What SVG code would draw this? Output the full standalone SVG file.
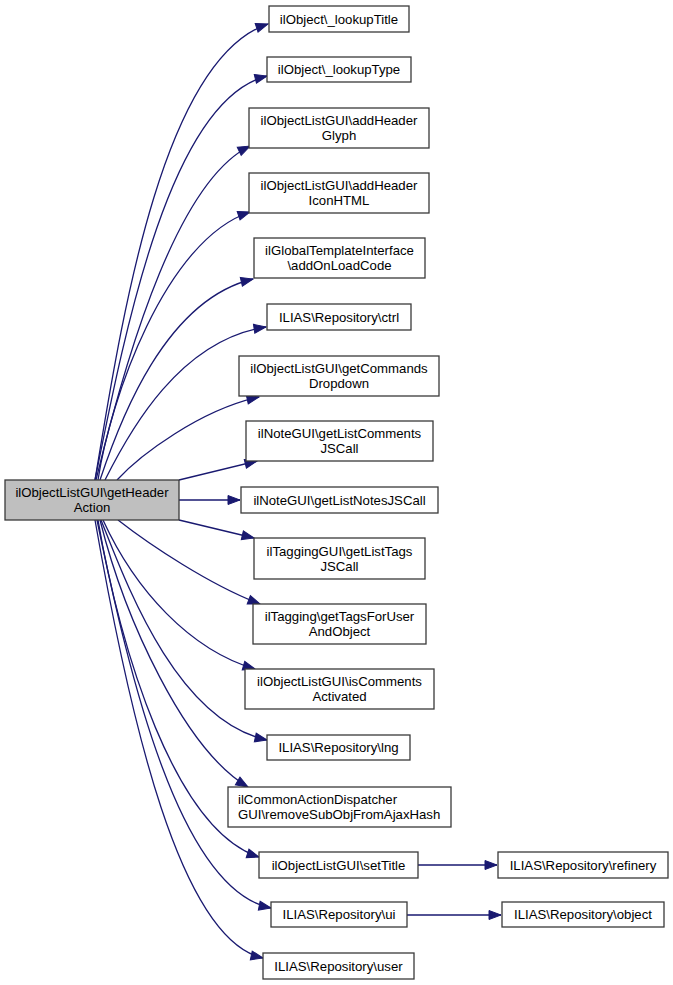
<svg xmlns="http://www.w3.org/2000/svg" width="673" height="985" viewBox="0 0 673 985">
<style>
.n rect{fill:#ffffff;stroke:#3a3a3a;stroke-width:1.3}
.m rect{fill:#bfbfbf;stroke:#3a3a3a;stroke-width:1.3}
text{font-family:"Liberation Sans",Arial,Helvetica,sans-serif;font-size:13.2px;fill:#000000;text-anchor:middle}
text.l{text-anchor:start}
#edges path{fill:none;stroke:#191970;stroke-width:1.3;marker-end:url(#arr)}
</style>
<defs>
<marker id="arr" markerUnits="userSpaceOnUse" markerWidth="13" markerHeight="10" refX="12" refY="4.5" orient="auto" overflow="visible">
<path d="M0,0 L12,4.5 L0,9 z" fill="#191970" stroke="#191970" stroke-width="1"/>
</marker>
</defs>
<rect width="673" height="985" fill="#ffffff"/>
<g id="edges">
<path d="M95,480 C120,330 160,60 268,24"/>
<path d="M95,480 C125,330 170,100 267,76"/>
<path d="M96,480 C130,340 180,180 250,146"/>
<path d="M98,480 C110,400 165,240 250,212"/>
<path d="M100,480 C120,420 165,300 253,279"/>
<path d="M105,480 C130,430 180,340 266,327"/>
<path d="M117,480 C140,455 200,410 259,397"/>
<path d="M179,480 L257,461"/>
<path d="M179,500 L240,500"/>
<path d="M179,520 L254,538"/>
<path d="M118,520 C150,545 210,585 260,604"/>
<path d="M103,520 C135,590 190,650 255,669"/>
<path d="M101,520 C125,580 175,720 267,740"/>
<path d="M100,520 C125,620 185,750 248,787"/>
<path d="M98,520 C120,650 175,830 259,857"/>
<path d="M97,520 C130,680 180,890 271,908"/>
<path d="M95,520 C130,720 180,940 263,958"/>
<path d="M418,865 L497,865"/>
<path d="M407,915 L501,915"/>
</g>
<g id="node_main" class="m"><rect x="5" y="480" width="174" height="40"/><text x="92" y="497">ilObjectListGUI\getHeader</text><text x="92" y="512">Action</text></g>
<g id="node_lookupTitle" class="n"><rect x="269" y="6" width="140" height="26"/><text x="339" y="23.5">ilObject\_lookupTitle</text></g>
<g id="node_lookupType" class="n"><rect x="267" y="57" width="144" height="25"/><text x="339" y="74">ilObject\_lookupType</text></g>
<g id="node_addHeaderGlyph" class="n"><rect x="249" y="108" width="180" height="40"/><text x="339" y="125">ilObjectListGUI\addHeader</text><text x="339" y="140">Glyph</text></g>
<g id="node_addHeaderIconHTML" class="n"><rect x="249" y="173" width="180" height="40"/><text x="339" y="190">ilObjectListGUI\addHeader</text><text x="339" y="205">IconHTML</text></g>
<g id="node_addOnLoadCode" class="n"><rect x="254" y="238" width="171" height="40"/><text x="339.5" y="255">ilGlobalTemplateInterface</text><text x="339.5" y="270">\addOnLoadCode</text></g>
<g id="node_ctrl" class="n"><rect x="267" y="304" width="144" height="26"/><text x="339" y="321.5">ILIAS\Repository\ctrl</text></g>
<g id="node_getCommandsDropdown" class="n"><rect x="239" y="356" width="200" height="40"/><text x="339" y="373">ilObjectListGUI\getCommands</text><text x="339" y="388">Dropdown</text></g>
<g id="node_getListCommentsJSCall" class="n"><rect x="246" y="421" width="187" height="40"/><text x="339.5" y="438">ilNoteGUI\getListComments</text><text x="339.5" y="453">JSCall</text></g>
<g id="node_getListNotesJSCall" class="n"><rect x="241" y="487" width="197" height="26"/><text x="339.5" y="504.5">ilNoteGUI\getListNotesJSCall</text></g>
<g id="node_getListTagsJSCall" class="n"><rect x="254" y="538" width="171" height="41"/><text x="339.5" y="555.5">ilTaggingGUI\getListTags</text><text x="339.5" y="570.5">JSCall</text></g>
<g id="node_getTagsForUserAndObject" class="n"><rect x="253" y="604" width="173" height="40"/><text x="339.5" y="621">ilTagging\getTagsForUser</text><text x="339.5" y="636">AndObject</text></g>
<g id="node_isCommentsActivated" class="n"><rect x="245" y="669" width="189" height="40"/><text x="339.5" y="686">ilObjectListGUI\isComments</text><text x="339.5" y="701">Activated</text></g>
<g id="node_lng" class="n"><rect x="267" y="735" width="143" height="25"/><text x="338.5" y="752">ILIAS\Repository\lng</text></g>
<g id="node_removeSubObjFromAjaxHash" class="n"><rect x="228" y="787" width="223" height="40"/><text class="l" x="238" y="804">ilCommonActionDispatcher</text><text class="l" x="238" y="819">GUI\removeSubObjFromAjaxHash</text></g>
<g id="node_setTitle" class="n"><rect x="259" y="852" width="159" height="26"/><text x="338.5" y="869.5">ilObjectListGUI\setTitle</text></g>
<g id="node_ui" class="n"><rect x="271" y="902" width="136" height="25"/><text x="339" y="919">ILIAS\Repository\ui</text></g>
<g id="node_user" class="n"><rect x="263" y="953" width="151" height="26"/><text x="338.5" y="970.5">ILIAS\Repository\user</text></g>
<g id="node_refinery" class="n"><rect x="498" y="852" width="170" height="26"/><text x="583" y="869.5">ILIAS\Repository\refinery</text></g>
<g id="node_object" class="n"><rect x="502" y="902" width="162" height="25"/><text x="583" y="919">ILIAS\Repository\object</text></g>
</svg>
